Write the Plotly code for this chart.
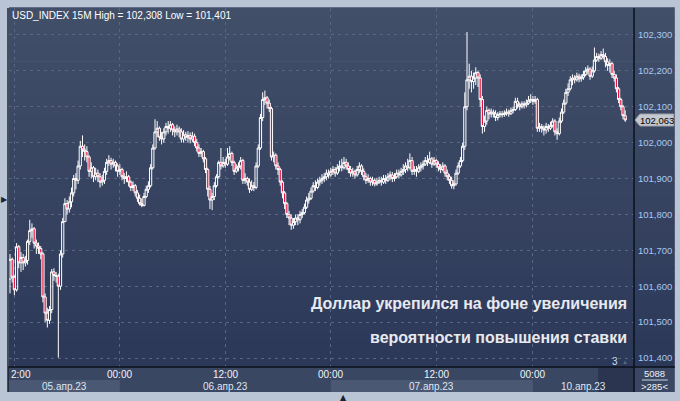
import plotly.graph_objects as go

# ---------------- data (USD_INDEX, 15M bars) ----------------
first_open = 101.620
close = [
    101.675, 101.625, 101.590, 101.710, 101.665, 101.680, 101.665, 101.672, 101.725, 101.755,
    101.760, 101.720, 101.712, 101.705, 101.690, 101.570, 101.525, 101.505, 101.535, 101.640,
    101.630, 101.628, 101.600, 101.690, 101.780,
    101.830, 101.815, 101.835, 101.860, 101.900, 101.895, 101.935, 101.990, 101.980, 101.975,
    101.960, 101.920, 101.930, 101.905, 101.915, 101.905, 101.890, 101.895, 101.920, 101.945,
    101.950, 101.940, 101.945, 101.935, 101.920, 101.925,
    101.905, 101.900, 101.905, 101.890, 101.875, 101.880, 101.860, 101.845, 101.830, 101.825,
    101.850, 101.870, 101.880, 101.930, 101.985, 102.030, 102.040, 102.015, 102.010, 102.030,
    102.045, 102.040, 102.050, 102.035, 102.030, 102.038, 102.030, 102.010, 102.022, 102.015,
    102.020, 102.010, 102.018, 102.000, 101.985, 101.970, 101.975, 101.955, 101.925, 101.870,
    101.840, 101.850, 101.880, 101.905, 101.945, 101.935, 101.945, 101.940, 101.960, 101.970,
    101.945, 101.920, 101.930, 101.935, 101.950, 101.895, 101.900, 101.890, 101.870, 101.880,
    101.875, 101.935, 101.985, 102.070, 102.120, 102.125, 102.110, 102.095, 101.960, 101.965,
    101.935, 101.925, 101.890, 101.860, 101.830, 101.800, 101.790, 101.770, 101.780, 101.790,
    101.785, 101.800, 101.805, 101.820, 101.840, 101.845, 101.865, 101.880, 101.875, 101.890,
    101.895, 101.900, 101.905, 101.915, 101.910, 101.920, 101.925, 101.915, 101.930, 101.935,
    101.930, 101.945, 101.935, 101.925, 101.915, 101.920, 101.910, 101.925, 101.935, 101.920,
    101.905, 101.895, 101.900, 101.890, 101.895, 101.885, 101.890, 101.895, 101.890, 101.900,
    101.895, 101.905, 101.910, 101.900, 101.905, 101.915, 101.910, 101.920, 101.925, 101.935,
    101.930, 101.950, 101.920, 101.925, 101.920, 101.930, 101.935, 101.940, 101.950, 101.945,
    101.955, 101.940, 101.950, 101.940, 101.930, 101.925, 101.935, 101.915, 101.905, 101.895,
    101.880, 101.885, 101.915, 101.935, 101.950, 101.990, 102.100, 102.175, 102.185, 102.170,
    102.180, 102.195, 102.180, 102.120, 102.045, 102.060, 102.090, 102.080, 102.085, 102.080,
    102.070, 102.078, 102.080, 102.078, 102.082, 102.085, 102.080, 102.090, 102.092, 102.115,
    102.105, 102.100, 102.108, 102.105, 102.110, 102.118, 102.120, 102.115, 102.120, 102.040,
    102.045, 102.040, 102.035, 102.045, 102.040, 102.048, 102.060, 102.030, 102.025, 102.060,
    102.085, 102.110, 102.140, 102.150, 102.175, 102.180, 102.175, 102.185, 102.178, 102.182,
    102.190, 102.200, 102.205, 102.185, 102.200, 102.230, 102.240, 102.235, 102.245, 102.240,
    102.225, 102.215, 102.220, 102.190, 102.180, 102.150, 102.120, 102.100, 102.075, 102.063,
]
high = [
    101.690, 101.680, 101.630, 101.720, 101.715, 101.695, 101.690, 101.685, 101.730, 101.785,
    101.775, 101.765, 101.730, 101.722, 101.712, 101.695, 101.580, 101.540, 101.545, 101.648,
    101.650, 101.640, 101.635, 101.700, 101.790,
    101.845, 101.840, 101.850, 101.875, 101.910, 101.915, 101.950, 102.005, 102.020, 101.995,
    101.990, 101.965, 101.945, 101.935, 101.930, 101.925, 101.915, 101.910, 101.930, 101.955,
    101.965, 101.958, 101.955, 101.950, 101.942, 101.940,
    101.930, 101.915, 101.920, 101.910, 101.895, 101.892, 101.885, 101.868, 101.855, 101.845,
    101.860, 101.880, 101.892, 101.940, 101.995, 102.065, 102.060, 102.045, 102.030, 102.040,
    102.055, 102.060, 102.060, 102.055, 102.045, 102.050, 102.045, 102.040, 102.035, 102.030,
    102.032, 102.028, 102.030, 102.025, 102.010, 101.995, 101.985, 101.980, 101.960, 101.930,
    101.880, 101.860, 101.890, 101.912, 101.950, 101.985, 101.960, 101.955, 101.985, 101.990,
    101.975, 101.950, 101.940, 101.945, 101.960, 101.955, 101.915, 101.905, 101.900, 101.895,
    101.890, 101.945, 101.995, 102.080, 102.140, 102.145, 102.130, 102.120, 102.100, 101.975,
    101.970, 101.945, 101.930, 101.895, 101.865, 101.835, 101.810, 101.800, 101.790, 101.800,
    101.800, 101.810, 101.815, 101.830, 101.850, 101.860, 101.875, 101.890, 101.895, 101.900,
    101.905, 101.912, 101.915, 101.925, 101.925, 101.930, 101.935, 101.932, 101.940, 101.950,
    101.955, 101.960, 101.955, 101.945, 101.935, 101.930, 101.925, 101.935, 101.945, 101.940,
    101.928, 101.915, 101.912, 101.905, 101.905, 101.900, 101.902, 101.905, 101.905, 101.910,
    101.910, 101.915, 101.920, 101.918, 101.915, 101.925, 101.925, 101.930, 101.940, 101.945,
    101.955, 101.970, 101.960, 101.935, 101.935, 101.940, 101.945, 101.950, 101.960, 101.965,
    101.975, 101.960, 101.960, 101.955, 101.948, 101.940, 101.945, 101.940, 101.925, 101.912,
    101.905, 101.895, 101.925, 101.945, 101.960, 102.000, 102.140, 102.308, 102.220, 102.200,
    102.195, 102.210, 102.200, 102.190, 102.130, 102.075, 102.100, 102.095, 102.095, 102.092,
    102.090, 102.085, 102.088, 102.088, 102.090, 102.095, 102.092, 102.098, 102.100, 102.125,
    102.125, 102.112, 102.115, 102.115, 102.120, 102.130, 102.135, 102.130, 102.130, 102.125,
    102.055, 102.052, 102.048, 102.055, 102.052, 102.058, 102.068, 102.065, 102.040, 102.070,
    102.095, 102.120, 102.150, 102.165, 102.185, 102.190, 102.188, 102.195, 102.192, 102.190,
    102.200, 102.210, 102.215, 102.210, 102.212, 102.265, 102.250, 102.248, 102.255, 102.262,
    102.250, 102.235, 102.232, 102.225, 102.200, 102.190, 102.155, 102.125, 102.105, 102.090,
]
low = [
    101.580, 101.610, 101.575, 101.585, 101.650, 101.640, 101.645, 101.655, 101.660, 101.715,
    101.735, 101.705, 101.690, 101.690, 101.675, 101.555, 101.500, 101.485, 101.495, 101.525,
    101.615, 101.610, 101.401, 101.590, 101.680,
    101.780, 101.800, 101.805, 101.820, 101.850, 101.870, 101.885, 101.925, 101.960, 101.950,
    101.945, 101.905, 101.900, 101.890, 101.895, 101.890, 101.875, 101.880, 101.885, 101.910,
    101.935, 101.925, 101.930, 101.920, 101.905, 101.910,
    101.895, 101.885, 101.890, 101.878, 101.865, 101.865, 101.850, 101.835, 101.825, 101.820,
    101.822, 101.845, 101.860, 101.875, 101.925, 101.980, 102.015, 102.005, 101.995, 102.000,
    102.020, 102.025, 102.030, 102.020, 102.015, 102.020, 102.015, 102.000, 102.000, 102.005,
    102.000, 101.998, 102.002, 101.990, 101.975, 101.960, 101.960, 101.945, 101.915, 101.850,
    101.815, 101.812, 101.840, 101.875, 101.900, 101.925, 101.930, 101.930, 101.935, 101.950,
    101.935, 101.910, 101.915, 101.920, 101.925, 101.885, 101.885, 101.880, 101.860, 101.865,
    101.865, 101.870, 101.930, 101.980, 102.060, 102.105, 102.095, 102.085, 101.950, 101.945,
    101.925, 101.910, 101.880, 101.845, 101.815, 101.790, 101.770, 101.757, 101.760, 101.770,
    101.770, 101.775, 101.790, 101.800, 101.815, 101.830, 101.840, 101.860, 101.865, 101.870,
    101.880, 101.885, 101.890, 101.895, 101.900, 101.905, 101.910, 101.905, 101.910, 101.920,
    101.920, 101.925, 101.925, 101.915, 101.905, 101.905, 101.900, 101.905, 101.915, 101.910,
    101.895, 101.885, 101.888, 101.880, 101.880, 101.878, 101.880, 101.885, 101.880, 101.885,
    101.885, 101.890, 101.895, 101.890, 101.892, 101.900, 101.900, 101.905, 101.910, 101.915,
    101.920, 101.925, 101.910, 101.910, 101.905, 101.915, 101.920, 101.925, 101.935, 101.935,
    101.940, 101.930, 101.935, 101.930, 101.920, 101.915, 101.920, 101.905, 101.895, 101.885,
    101.872, 101.870, 101.880, 101.910, 101.930, 101.945, 101.980, 102.090, 102.150, 102.140,
    102.150, 102.160, 102.155, 102.100, 102.025, 102.030, 102.050, 102.065, 102.070, 102.070,
    102.060, 102.062, 102.070, 102.070, 102.072, 102.075, 102.072, 102.078, 102.082, 102.088,
    102.095, 102.090, 102.095, 102.095, 102.098, 102.105, 102.110, 102.105, 102.108, 102.030,
    102.030, 102.028, 102.020, 102.025, 102.030, 102.035, 102.042, 102.020, 102.008, 102.020,
    102.055, 102.080, 102.105, 102.130, 102.145, 102.160, 102.165, 102.170, 102.168, 102.170,
    102.175, 102.185, 102.190, 102.175, 102.180, 102.195, 102.225, 102.225, 102.230, 102.232,
    102.210, 102.200, 102.195, 102.180, 102.170, 102.140, 102.110, 102.090, 102.065, 102.058,
]

# bar index of time ticks (5 Apr 12:00, 6 Apr 00:00, 6 Apr 12:00, 7 Apr 00:00, 7 Apr 12:00, 10 Apr 00:00)
tick_bars = [2, 50, 98, 146, 194, 238]
tick_text = ["2:00", "00:00", "12:00", "00:00", "12:00", "00:00"]
# trading-day sessions: label, first bar, last bar edge
day_labels = ["05.апр.23", "06.апр.23", "07.апр.23", "10.апр.23"]
day_edges = [-0.45, 50, 146, 238, 284.0]
price_ticks = [101.4, 101.5, 101.6, 101.7, 101.8, 101.9, 102.0, 102.1, 102.2, 102.3]
symbol = "USD_INDEX"
timeframe = "15M"
bars_total = "5088"
bars_visible = ">285<"
headline = ["Доллар укрепился на фоне увеличения", "вероятности повышения ставки"]

# ---------------- build ----------------
opens = [first_open] + close[:-1]
high = [max(h, o, c) for h, o, c in zip(high, opens, close)]
low = [min(l, o, c) for l, o, c in zip(low, opens, close)]
bars = list(range(len(close)))


def fmt(v):
    return f"{v:.3f}".replace(".", ",")


W, H = 680, 401
L, R, T, B = 9, 637, 8, 367


def xp(px):
    return (px - L) / (R - L)


def yp(py):
    return (B - py) / (B - T)


FONT = "Liberation Sans"

fig = go.Figure(go.Candlestick(
    x=bars, open=opens, high=high, low=low, close=close,
    increasing=dict(line=dict(color="#ffffff", width=1), fillcolor="rgba(0,0,0,0)"),
    decreasing=dict(line=dict(color="#ffffff", width=1), fillcolor="#e8103c"),
    whiskerwidth=0, hoverinfo="skip", showlegend=False,
))

shapes = []
# vertical gradient background (plot + right price panel)
N = 40
top = (66, 79, 105)
bot = (44, 56, 88)
for k in range(N):
    t = (k + 0.5) / N
    col = tuple(round(bot[i] + (top[i] - bot[i]) * t) for i in range(3))
    shapes.append(dict(type="rect", xref="paper", yref="paper", x0=0, x1=xp(678),
                       y0=k / N, y1=(k + 1) / N + 0.002, fillcolor="rgb(%d,%d,%d)" % col,
                       line=dict(width=0), layer="below"))
# time axis strip
shapes.append(dict(type="rect", xref="paper", yref="paper", x0=xp(8), x1=xp(678),
                   y0=yp(392), y1=0, fillcolor="#3a4762", line=dict(width=0), layer="below"))
# lighter day bands (alternate sessions)
for i in (0, 2):
    shapes.append(dict(type="rect", xref="x", yref="paper", x0=day_edges[i], x1=day_edges[i + 1],
                       y0=yp(392), y1=yp(380), fillcolor="#4b5874", line=dict(width=0), layer="below"))
# dark area after last bar in time strip
shapes.append(dict(type="rect", xref="paper", yref="paper", x0=xp(601), x1=1,
                   y0=yp(392), y1=0, fillcolor="#2b3550", line=dict(width=0), layer="below"))
# separators
shapes.append(dict(type="line", xref="paper", yref="paper", x0=1, x1=1, y0=yp(392), y1=yp(8),
                   line=dict(color="#0b101c", width=1.5), layer="above"))
shapes.append(dict(type="line", xref="paper", yref="paper", x0=xp(8), x1=xp(678), y0=0, y1=0,
                   line=dict(color="#0b101c", width=1.5), layer="above"))
shapes.append(dict(type="line", xref="paper", yref="paper", x0=xp(8), x1=xp(8), y0=yp(392), y1=yp(8),
                   line=dict(color="#1e2636", width=1.5), layer="above"))
shapes.append(dict(type="line", xref="paper", yref="paper", x0=xp(645), x1=xp(671),
                   y0=yp(380), y1=yp(380), line=dict(color="#c9d2de", width=1), layer="above"))
# last price marker
c = close[-1]
hh = 6 * (1.0 / 359)
shapes.append(dict(type="path", xref="paper", yref="y",
                   path=f"M {xp(638)},{c} L {xp(643)},{c + hh} L {xp(677)},{c + hh} "
                        f"L {xp(677)},{c - hh} L {xp(643)},{c - hh} Z",
                   fillcolor="#c4c8d0", line=dict(color="#9aa0aa", width=1), layer="above"))

ann = []
ann.append(dict(x=xp(10), y=yp(15), xref="paper", yref="paper", xanchor="left", yanchor="middle",
                text=f"{symbol} {timeframe} High = {fmt(max(high))} Low = {fmt(min(low))}",
                showarrow=False, font=dict(family=FONT, size=10, color="#ffffff")))
for b, t in zip(tick_bars, tick_text):
    if b == tick_bars[0]:
        ann.append(dict(x=xp(9), y=yp(374), xref="paper", yref="paper", xanchor="left", yanchor="middle",
                        text=t, showarrow=False, font=dict(family=FONT, size=10, color="#f2f4f8")))
    else:
        ann.append(dict(x=b, y=yp(374), xref="x", yref="paper", xanchor="center", yanchor="middle",
                        text=t, showarrow=False, font=dict(family=FONT, size=10, color="#f2f4f8")))
for i, lab in enumerate(day_labels):
    ann.append(dict(x=(day_edges[i] + day_edges[i + 1]) / 2, y=yp(386), xref="x", yref="paper",
                    xanchor="center", yanchor="middle", text=lab, showarrow=False,
                    font=dict(family=FONT, size=10, color="#dfe6f0")))
for j, line in enumerate(headline):
    ann.append(dict(x=xp(632), y=yp(303 + 34 * j), xref="paper", yref="paper", xanchor="right",
                    yanchor="middle", text=line, showarrow=False,
                    font=dict(family=FONT, size=16, color="#e8e9ef", weight="bold")))
ann.append(dict(x=xp(660), y=c, xref="paper", yref="y", xanchor="center", yanchor="middle",
                text=fmt(c), showarrow=False, font=dict(family=FONT, size=9.5, color="#000000")))
ann.append(dict(x=xp(658), y=yp(373), xref="paper", yref="paper", xanchor="center", yanchor="middle",
                text=bars_total, showarrow=False, font=dict(family=FONT, size=9.5, color="#eef2f8")))
ann.append(dict(x=xp(658), y=yp(386), xref="paper", yref="paper", xanchor="center", yanchor="middle",
                text=bars_visible, showarrow=False, font=dict(family=FONT, size=9.5, color="#eef2f8")))
ann.append(dict(x=xp(618), y=yp(361), xref="paper", yref="paper", xanchor="center", yanchor="middle",
                text="3", showarrow=False, font=dict(family=FONT, size=10, color="#c8dcf4")))
ann.append(dict(x=xp(628), y=yp(362), xref="paper", yref="paper", xanchor="center", yanchor="middle",
                text="▲", showarrow=False, font=dict(family=FONT, size=6, color="#5c6780")))
ann.append(dict(x=xp(4), y=yp(200), xref="paper", yref="paper", xanchor="center", yanchor="middle",
                text="▶", showarrow=False, font=dict(family="DejaVu Sans", size=8, color="#1a2335")))
ann.append(dict(x=xp(345), y=yp(397), xref="paper", yref="paper", xanchor="center", yanchor="middle",
                text="▲", showarrow=False, font=dict(family="DejaVu Sans", size=8, color="#1a2335")))

fig.update_layout(
    width=W, height=H,
    margin=dict(l=L, r=W - R, t=T, b=H - B, pad=0),
    paper_bgcolor="#b9c4d4", plot_bgcolor="rgba(0,0,0,0)",
    boxgap=0.0, boxgroupgap=0.0,
    shapes=shapes, annotations=ann,
    xaxis=dict(range=[day_edges[0], day_edges[-1]], tickvals=tick_bars, showticklabels=False,
               showgrid=True, gridcolor="#5a6783", gridwidth=1, griddash="3px,4px",
               zeroline=False, showline=False, ticks="", rangeslider=dict(visible=False),
               fixedrange=True),
    yaxis=dict(side="right", range=[101.375, 102.375], tickvals=price_ticks,
               ticktext=[fmt(v) for v in price_ticks],
               tickfont=dict(family=FONT, size=9.5, color="#aac8ee"),
               showgrid=True, gridcolor="#5a6783", gridwidth=1, griddash="3px,4px",
               zeroline=False, showline=False, ticks="", ticklabelstandoff=3, fixedrange=True),
)

fig.write_html(
    "out.html",
    config={"displayModeBar": False, "staticPlot": True},
    post_script="document.body.style.margin='0';document.body.style.overflow='hidden';",
)
